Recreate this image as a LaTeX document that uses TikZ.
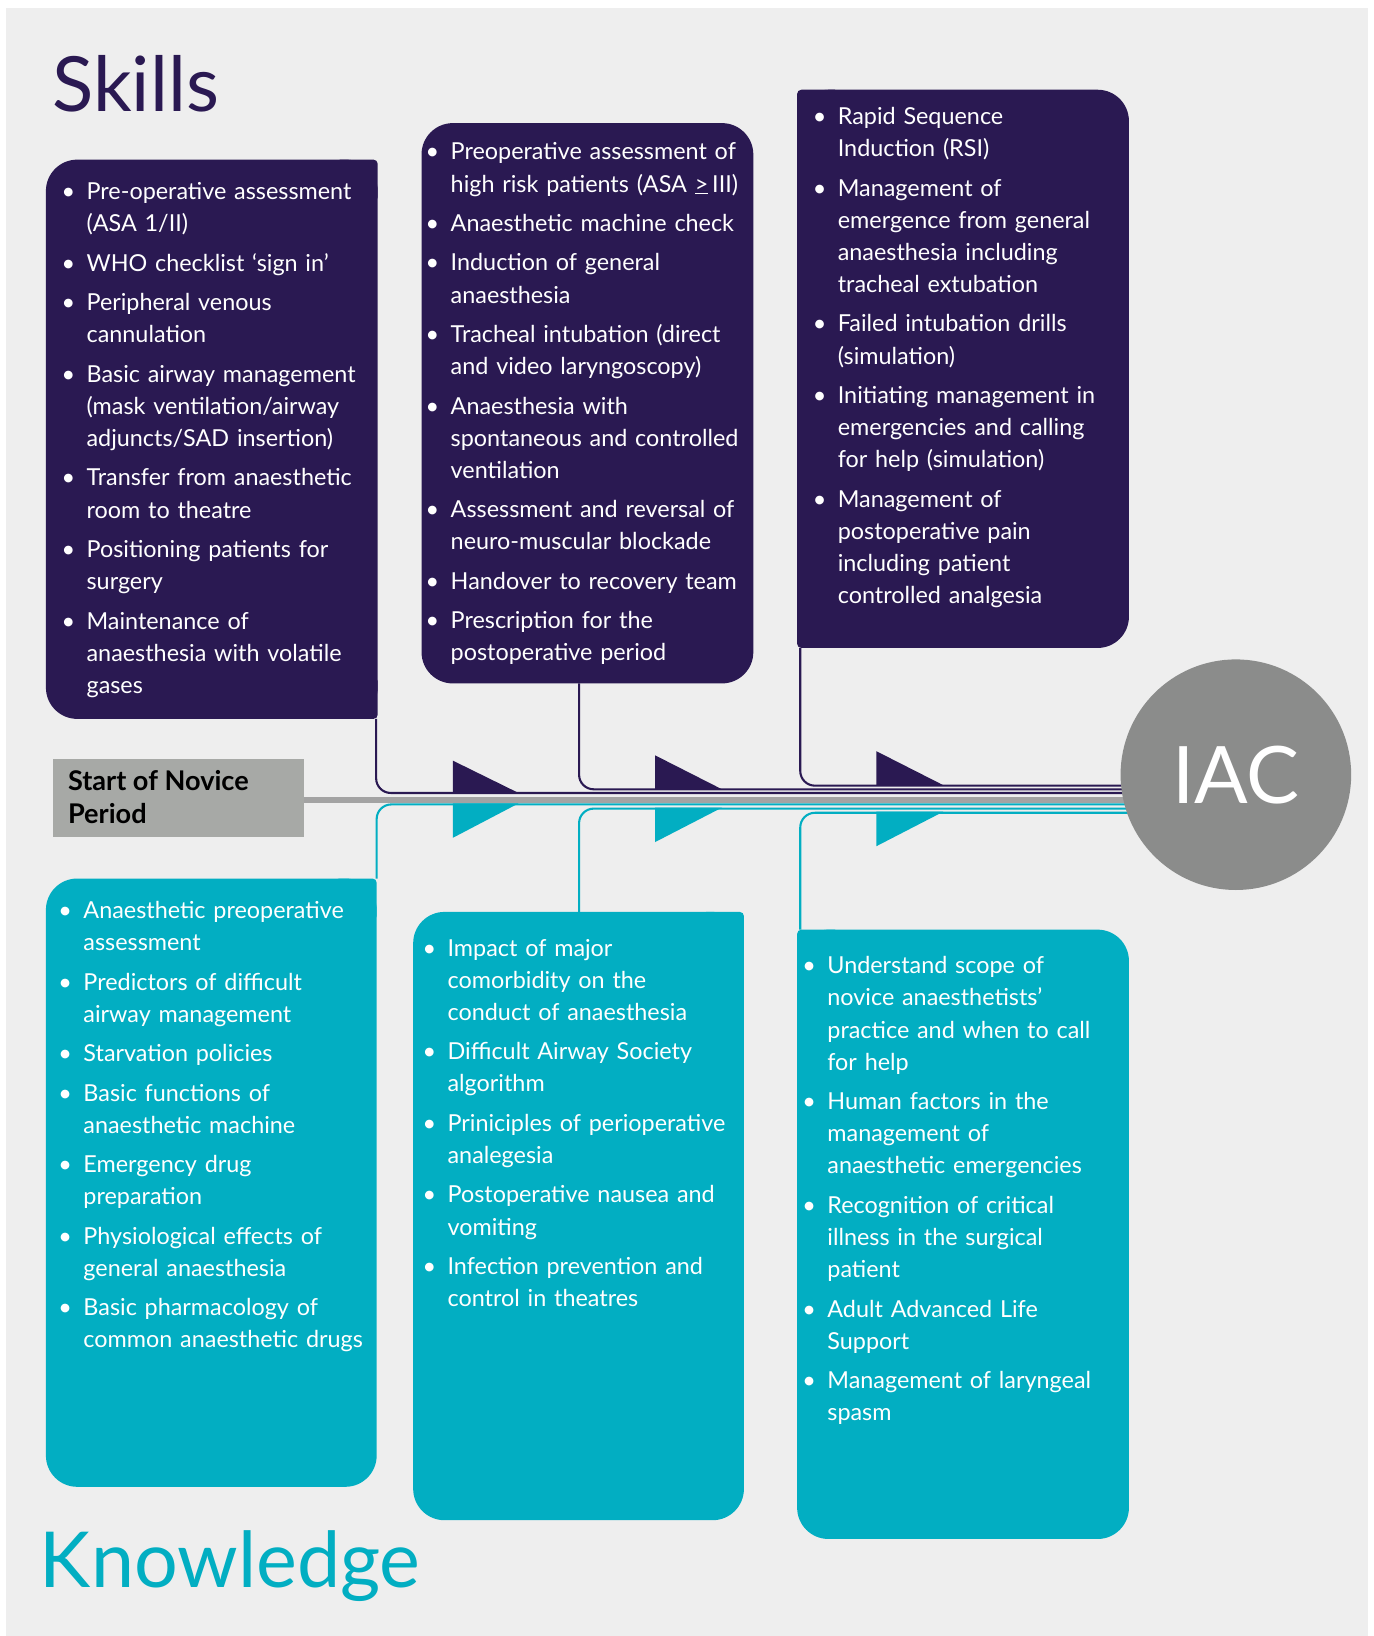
\documentclass[tikz,border=0pt]{standalone}
\usepackage{fontspec}
\setmainfont{Lato}
\usetikzlibrary{calc}
\definecolor{skill}{RGB}{42,25,82}
\definecolor{know}{RGB}{2,174,194}
\definecolor{bg}{RGB}{238,238,238}
\definecolor{startgrey}{RGB}{167,169,166}
\definecolor{iacgrey}{RGB}{139,140,139}
\definecolor{linegrey}{RGB}{163,163,163}
\newcommand\itm{\par\noindent\llap{\textbullet\hspace{11pt}}}
\newcommand\firstl{\rule{0pt}{22pt}}
\begin{document}
\begin{tikzpicture}[x=1pt,y=1pt,
  panel/.style={inner sep=0pt, outer sep=0pt, rounded corners=30pt, anchor=north west},
  txt/.style={anchor=north west, inner sep=0pt, outer sep=0pt, text width=420pt, align=left, text=white,
    font=\fontsize{22.4}{30.8}\selectfont},
  pline/.style={draw=skill, line width=2pt, rounded corners=14pt},
  kline/.style={draw=know, line width=2pt, rounded corners=14pt},
  title/.style={anchor=base west, inner sep=0pt}
]
\useasboundingbox (0,0) rectangle (1316,-1568);
\fill[white] (0,0) rectangle (1316,-1568);
\fill[bg] (6,-8) rectangle (1311,-1568);

% titles
\node[title, text=skill, font=\fontsize{73}{80}\selectfont] (skills) at (50,-107) {Skills};
\node[title, text=know, font=\fontsize{74}{80}\selectfont] (knowledge) at (38,-1521.7) {Knowledge};

% skill panels
\node[panel, fill=skill, minimum width=318pt, minimum height=536pt] (s1) at (44,-153) {};
\fill[skill, rounded corners=4pt] (s1.north east) rectangle ++(-40,-40);
\fill[skill, rounded corners=4pt] (s1.south east) rectangle ++(-40,40);
\node[panel, fill=skill, minimum width=318pt, minimum height=537pt] (s2) at (404,-118) {};
\node[panel, fill=skill, minimum width=318pt, minimum height=535pt] (s3) at (764,-86) {};
\fill[skill, rounded corners=4pt] (s3.north west) rectangle ++(40,-40);
\fill[skill, rounded corners=4pt] (s3.south west) rectangle ++(40,40);

% knowledge panels
\node[panel, fill=know, minimum width=317pt, minimum height=583pt] (k1) at (44,-842) {};
\fill[know, rounded corners=4pt] (k1.north east) rectangle ++(-40,-40);
\node[panel, fill=know, minimum width=317pt, minimum height=583pt] (k2) at (396,-874) {};
\fill[know, rounded corners=4pt] (k2.north east) rectangle ++(-40,-40);
\node[panel, fill=know, minimum width=318pt, minimum height=584pt] (k3) at (764,-891) {};
\fill[know, rounded corners=4pt] (k3.north west) rectangle ++(40,-40);

% IAC circle position (drawn later)
\coordinate (iacc) at (1184.5,-742.5);

% connectors
\coordinate (p1) at ($(s1.south east)+(-1.5,0)$);
\coordinate (p2) at ($(s2.south west)+(151,0)$);
\coordinate (p3) at ($(s3.south west)+(3,0)$);
\coordinate (q1) at (k1.north east);
\coordinate (q2) at ($(k2.north west)+(159,0)$);
\coordinate (q3) at ($(k3.north west)+(3,0)$);
\coordinate (jp1) at (p1 |- 0,-760);
\coordinate (jp2) at (p2 |- 0,-756.5);
\coordinate (jp3) at (p3 |- 0,-753);
\coordinate (jq1) at (q1 |- 0,-771);
\coordinate (jq2) at (q2 |- 0,-775);
\coordinate (jq3) at (q3 |- 0,-779);
\draw[pline] (p1) -- (jp1) -- (jp1 -| iacc);
\draw[pline] (p2) -- (jp2) -- (jp2 -| iacc);
\draw[pline] (p3) -- (jp3) -- (jp3 -| iacc);
\draw[kline] (q1) -- (jq1) -- (jq1 -| iacc);
\draw[kline] (q2) -- (jq2) -- (jq2 -| iacc);
\draw[kline] (q3) -- (jq3) -- (jq3 -| iacc);

% start box
\node[panel, rounded corners=0pt, fill=startgrey, minimum width=240pt, minimum height=75pt] (start) at (51,-727) {};
\draw[linegrey, line width=6pt] (start.east |- 0,-766.5) -- (iacc |- 0,-766.5);
\node[anchor=north west, inner sep=0pt, align=left, font=\fontsize{26}{32}\bfseries] (starttxt) at (65,-735)
  {\rule{0pt}{22pt}Start of Novice\\Period};

% arrowheads
\fill[skill] (434,-729) -- (434,-760) -- (497,-760) -- cycle;
\fill[know] (434,-770) -- (497,-770) -- (434,-803) -- cycle;
\fill[skill] (628,-724) -- (628,-757) -- (693,-757) -- cycle;
\fill[know] (628,-774) -- (692,-774) -- (628,-807) -- cycle;
\fill[skill] (840,-720) -- (840,-753) -- (905,-753) -- cycle;
\fill[know] (840,-778) -- (904,-778) -- (840,-811) -- cycle;

% IAC
\node[circle, fill=iacgrey, minimum size=221pt, inner sep=0pt, text=white, font=\fontsize{76}{80}\selectfont] (iac) at (iacc) {IAC};

% texts
\node[txt] (s1t) at (83,-153.5) {\setlength\parskip{7pt}%
\itm\firstl Pre-operative assessment\\(ASA 1/II)
\itm WHO checklist ‘sign in’
\itm Peripheral venous\\cannulation
\itm Basic airway management\\(mask ventilation/airway\\adjuncts/SAD insertion)
\itm Transfer from anaesthetic\\room to theatre
\itm Positioning patients for\\surgery
\itm Maintenance of\\anaesthesia with volatile\\gases\par};

\node[txt] (s2t) at (432,-115.5) {\setlength\parskip{7pt}%
\itm\firstl Preoperative assessment of\\high risk patients (ASA \underline{>}\,III)
\itm Anaesthetic machine check
\itm Induction of general\\anaesthesia
\itm Tracheal intubation (direct\\and video laryngoscopy)
\itm Anaesthesia with\\spontaneous and controlled\\ventilation
\itm Assessment and reversal of\\neuro-muscular blockade
\itm Handover to recovery team
\itm Prescription for the\\postoperative period\par};

\node[txt] (s3t) at (803,-81.5) {\setlength\parskip{7pt}%
\itm\firstl Rapid Sequence\\Induction (RSI)
\itm Management of\\emergence from general\\anaesthesia including\\tracheal extubation
\itm Failed intubation drills\\(simulation)
\itm Initiating management in\\emergencies and calling\\for help (simulation)
\itm Management of\\postoperative pain\\including patient\\controlled analgesia\par};

\node[txt] (k1t) at (80,-842.5) {\setlength\parskip{7pt}%
\itm\firstl Anaesthetic preoperative\\assessment
\itm Predictors of difficult\\airway management
\itm Starvation policies
\itm Basic functions of\\anaesthetic machine
\itm Emergency drug\\preparation
\itm Physiological effects of\\general anaesthesia
\itm Basic pharmacology of\\common anaesthetic drugs\par};

\node[txt] (k2t) at (429,-878.5) {\setlength\parskip{7pt}%
\itm\firstl Impact of major\\comorbidity on the\\conduct of anaesthesia
\itm Difficult Airway Society\\algorithm
\itm Priniciples of perioperative\\analegesia
\itm Postoperative nausea and\\vomiting
\itm Infection prevention and\\control in theatres\par};

\node[txt] (k3t) at (793,-895.5) {\setlength\parskip{7pt}%
\itm\firstl Understand scope of\\novice anaesthetists’\\practice and when to call\\for help
\itm Human factors in the\\management of\\anaesthetic emergencies
\itm Recognition of critical\\illness in the surgical\\patient
\itm Adult Advanced Life\\Support
\itm Management of laryngeal\\spasm\par};
\end{tikzpicture}
\end{document}
